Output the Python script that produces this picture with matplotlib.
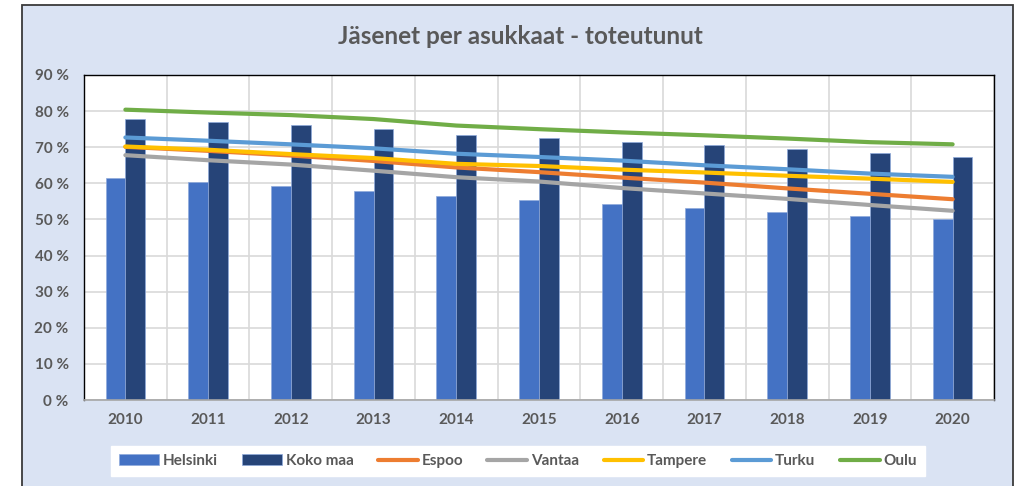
import matplotlib.pyplot as plt
import matplotlib.patches as mpatches
import numpy as np

# values (percent)
years = ["2010", "2011", "2012", "2013", "2014", "2015", "2016", "2017", "2018", "2019", "2020"]
helsinki = [61.6, 60.4, 59.2, 57.9, 56.4, 55.4, 54.2, 53.2, 52.1, 51.0, 50.0]
koko_maa = [77.8, 76.9, 76.1, 75.0, 73.4, 72.6, 71.5, 70.5, 69.5, 68.4, 67.4]
espoo = [70.1, 69.0, 67.7, 66.2, 64.4, 63.1, 61.6, 60.2, 58.6, 57.1, 55.6]
vantaa = [67.8, 66.4, 65.2, 63.5, 61.7, 60.5, 58.7, 57.2, 55.7, 54.0, 52.4]
tampere = [70.2, 69.3, 68.1, 67.0, 65.4, 64.8, 63.8, 63.0, 62.1, 61.3, 60.4]
turku = [72.7, 71.8, 70.8, 69.7, 68.2, 67.3, 66.3, 65.0, 63.9, 62.7, 61.8]
oulu = [80.4, 79.6, 78.9, 77.8, 76.0, 75.0, 74.1, 73.3, 72.4, 71.4, 70.8]
yticks = [0, 10, 20, 30, 40, 50, 60, 70, 80, 90]

txt = "#595959"
bg = "#DAE3F3"
plt.rcParams['font.family'] = ['Lato', 'DejaVu Sans']

fig = plt.figure(figsize=(10.32, 4.86), dpi=100)
fig.patch.set_facecolor("white")
# chart area frame
frame = mpatches.Rectangle((22/1032, -0.05), (1013-22)/1032, 1.05 - 5/486,
                           transform=fig.transFigure, facecolor=bg,
                           edgecolor="#3a3a3a", linewidth=1.3, zorder=-5)
fig.patches.append(frame)

ax = fig.add_axes([84/1032, 1 - 400/486, 910/1032, 325/486])
ax.set_facecolor("white")

x = np.arange(len(years))
w = 0.24
h1 = ax.bar(x - w/2, helsinki, w, color="#4472C4", edgecolor="#8faadc", linewidth=0.5, label="Helsinki", zorder=2)
h2 = ax.bar(x + w/2, koko_maa, w, color="#264478", edgecolor="#8faadc", linewidth=0.5, label="Koko maa", zorder=2)

lw = 3
l1, = ax.plot(x, espoo, color="#ED7D31", lw=lw, label="Espoo", zorder=3, solid_capstyle="round")
l2, = ax.plot(x, vantaa, color="#A5A5A5", lw=lw, label="Vantaa", zorder=3, solid_capstyle="round")
l3, = ax.plot(x, tampere, color="#FFC000", lw=lw, label="Tampere", zorder=3, solid_capstyle="round")
l4, = ax.plot(x, turku, color="#5B9BD5", lw=lw, label="Turku", zorder=3, solid_capstyle="round")
l5, = ax.plot(x, oulu, color="#70AD47", lw=lw, label="Oulu", zorder=3, solid_capstyle="round")

ax.set_xlim(-0.5, len(years) - 0.5)
ax.set_ylim(0, 90)
ax.set_yticks(yticks)
ax.set_yticklabels([f"{v} %" for v in yticks])
ax.set_xticks(x)
ax.set_xticklabels(years)
ax.set_xticks(np.arange(len(years) + 1) - 0.5, minor=True)

ax.grid(axis="y", which="major", color="#D9D9D9", lw=1.2, zorder=0)
ax.grid(axis="x", which="minor", color="#D9D9D9", lw=1.2, zorder=0)
ax.set_axisbelow(True)
ax.tick_params(axis="both", which="both", length=0)
ax.tick_params(axis="y", pad=11, labelsize=11, labelcolor=txt)
ax.tick_params(axis="x", pad=9, labelsize=11, labelcolor=txt)
for lab in ax.get_xticklabels() + ax.get_yticklabels():
    lab.set_fontweight("bold")

for s in ["left", "top", "right"]:
    ax.spines[s].set_color("black")
    ax.spines[s].set_linewidth(1)
ax.spines["bottom"].set_color("#A6A6A6")
ax.spines["bottom"].set_linewidth(1.2)

fig.text(520/1032, 1 - 37/486, "Jäsenet per asukkaat - toteutunut", ha="center", va="center",
         fontsize=17.5, fontweight="bold", color=txt)

leg = fig.legend([h1, h2, l1, l2, l3, l4, l5],
                 ["Helsinki", "Koko maa", "Espoo", "Vantaa", "Tampere", "Turku", "Oulu"],
                 loc="center", bbox_to_anchor=(518/1032, 1 - 461/486), ncol=7,
                 frameon=True, fancybox=False, handlelength=2.6, handletextpad=0.25,
                 columnspacing=1.6, borderpad=0.5, prop={"weight": "bold", "size": 11})
leg.get_frame().set_facecolor("white")
leg.get_frame().set_edgecolor("white")
leg.get_frame().set_alpha(1)
for t in leg.get_texts():
    t.set_color(txt)

fig.savefig("out.png", dpi=100)
